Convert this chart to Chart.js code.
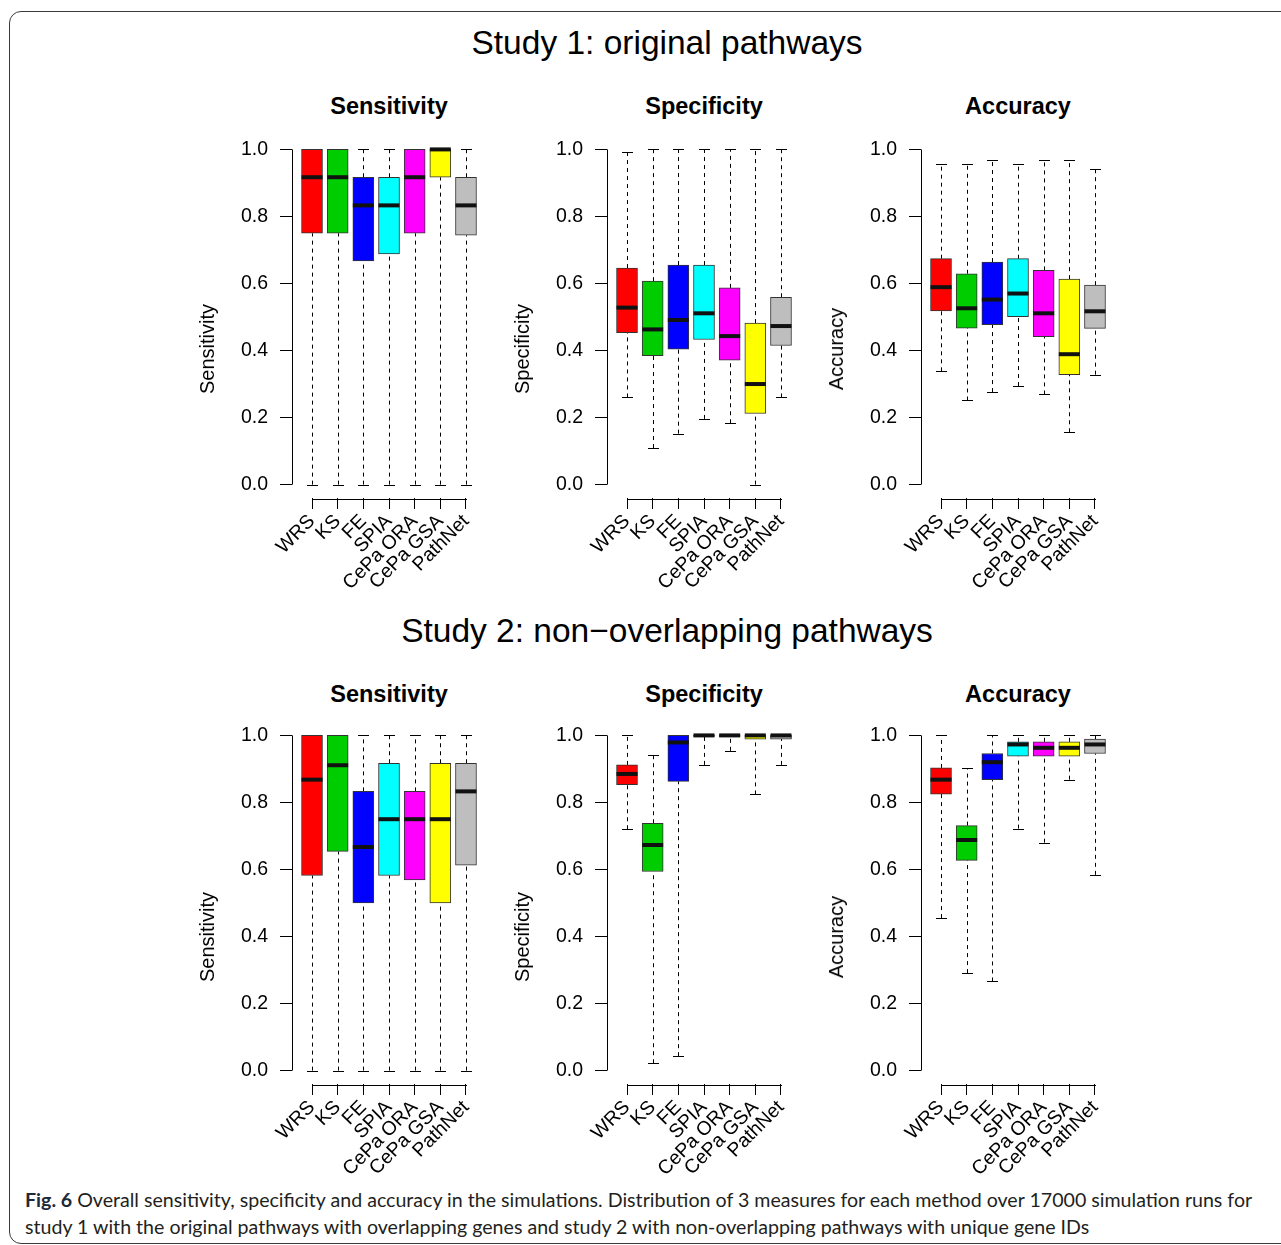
<!DOCTYPE html>
<html>
<head>
<meta charset="utf-8">
<script src="https://cdn.jsdelivr.net/npm/chart.js@4.4.1/dist/chart.umd.min.js"></script>
<style>
  body { margin: 0; width: 1281px; height: 1245px; overflow: hidden; background: #fff; position: relative; font-family: "Liberation Sans", Arial, sans-serif; }
  .frame { position: absolute; left: 9px; top: 11px; width: 1300px; height: 1231px; border: 1.5px solid #3a3a3a; border-radius: 12px; }
  .txt { position: absolute; white-space: nowrap; color: #000; transform: translate(-50%, -50%); line-height: 1; }
  .study { font-size: 33.5px; }
  .ptitle { font-size: 23.5px; font-weight: bold; }
  .ytitle { font-size: 20px; transform: translate(-50%, -50%) rotate(-90deg); }
  .panel { position: absolute; }
  .caption { position: absolute; left: 25px; top: 1186px; font-family: Lato, "Open Sans", sans-serif; font-size: 19.6px; line-height: 27px; color: #231f20; white-space: nowrap; }
  .caption b { color: #1c2a3a; }
</style>
</head>
<body>
<div class="frame"></div>

<div class="txt study" style="left:667px; top:43px;">Study 1: original pathways</div>
<div class="txt study" style="left:667px; top:631px;">Study 2: non−overlapping pathways</div>

<div class="caption"><b>Fig. 6</b> Overall sensitivity, specificity and accuracy in the simulations. Distribution of 3 measures for each method over 17000 simulation runs for<br>study 1 with the original pathways with overlapping genes and study 2 with non-overlapping pathways with unique gene IDs</div>

<script>
// methods and box colours
const methods = ['WRS', 'KS', 'FE', 'SPIA', 'CePa ORA', 'CePa GSA', 'PathNet'];
const boxColors = ['#FF0000', '#00CD00', '#0000FF', '#00FFFF', '#FF00FF', '#FFFF00', '#BEBEBE'];
const yTicks = [0, 0.2, 0.4, 0.6, 0.8, 1.0];

// study 1 - sensitivity
const s1SensLow = [0, 0, 0, 0, 0, 0, 0];
const s1SensQ1  = [0.75, 0.75, 0.667, 0.688, 0.75, 0.917, 0.744];
const s1SensMed = [0.917, 0.917, 0.833, 0.833, 0.917, 1.0, 0.833];
const s1SensQ3  = [1, 1, 0.917, 0.917, 1, 1, 0.917];
const s1SensHigh = [1, 1, 1, 1, 1, 1, 1];

// study 1 - specificity
const s1SpecLow = [0.26, 0.109, 0.152, 0.196, 0.183, 0, 0.26];
const s1SpecQ1  = [0.453, 0.385, 0.404, 0.433, 0.371, 0.212, 0.415];
const s1SpecMed = [0.528, 0.463, 0.491, 0.511, 0.443, 0.3, 0.473];
const s1SpecQ3  = [0.646, 0.607, 0.655, 0.655, 0.587, 0.482, 0.559];
const s1SpecHigh = [0.992, 1, 1, 1, 1, 1, 1];

// study 1 - accuracy
const s1AccLow = [0.338, 0.251, 0.276, 0.294, 0.269, 0.156, 0.328];
const s1AccQ1  = [0.518, 0.467, 0.477, 0.501, 0.441, 0.328, 0.466];
const s1AccMed = [0.589, 0.526, 0.552, 0.570, 0.511, 0.389, 0.517];
const s1AccQ3  = [0.674, 0.629, 0.664, 0.674, 0.639, 0.613, 0.595];
const s1AccHigh = [0.957, 0.957, 0.967, 0.957, 0.967, 0.967, 0.941];

// study 2 - sensitivity
const s2SensLow = [0, 0, 0, 0, 0, 0, 0];
const s2SensQ1  = [0.582, 0.654, 0.5, 0.582, 0.569, 0.5, 0.613];
const s2SensMed = [0.868, 0.911, 0.667, 0.75, 0.75, 0.75, 0.833];
const s2SensQ3  = [1, 1, 0.833, 0.917, 0.833, 0.917, 0.917];
const s2SensHigh = [1, 1, 1, 1, 1, 1, 1];

// study 2 - specificity
const s2SpecLow = [0.72, 0.022, 0.043, 0.912, 0.954, 0.824, 0.912];
const s2SpecQ1  = [0.853, 0.594, 0.863, 0.997, 0.997, 0.989, 0.989];
const s2SpecMed = [0.885, 0.673, 0.979, 1, 1, 1, 1];
const s2SpecQ3  = [0.912, 0.738, 1, 1, 1, 1, 1];
const s2SpecHigh = [1, 0.941, 1, 1, 1, 1, 1];

// study 2 - accuracy
const s2AccLow = [0.455, 0.291, 0.266, 0.722, 0.680, 0.868, 0.584];
const s2AccQ1  = [0.825, 0.627, 0.868, 0.938, 0.938, 0.938, 0.946];
const s2AccMed = [0.868, 0.688, 0.920, 0.973, 0.963, 0.963, 0.973];
const s2AccQ3  = [0.903, 0.731, 0.946, 0.981, 0.981, 0.981, 0.989];
const s2AccHigh = [1, 0.903, 1, 1, 1, 1, 1];

const panels = [
  { title: 'Sensitivity', left: 292, top: 136, lo: s1SensLow, q1: s1SensQ1, med: s1SensMed, q3: s1SensQ3, hi: s1SensHigh },
  { title: 'Specificity', left: 607, top: 136, lo: s1SpecLow, q1: s1SpecQ1, med: s1SpecMed, q3: s1SpecQ3, hi: s1SpecHigh },
  { title: 'Accuracy', left: 921, top: 136, lo: s1AccLow, q1: s1AccQ1, med: s1AccMed, q3: s1AccQ3, hi: s1AccHigh },
  { title: 'Sensitivity', left: 292, top: 722, lo: s2SensLow, q1: s2SensQ1, med: s2SensMed, q3: s2SensQ3, hi: s2SensHigh },
  { title: 'Specificity', left: 607, top: 722, lo: s2SpecLow, q1: s2SpecQ1, med: s2SpecMed, q3: s2SpecQ3, hi: s2SpecHigh },
  { title: 'Accuracy', left: 921, top: 722, lo: s2AccLow, q1: s2AccQ1, med: s2AccMed, q3: s2AccQ3, hi: s2AccHigh }
];

const Y_AXIS_W = 80, X_AXIS_H = 110, AREA_W = 194, AREA_H = 362;

Chart.defaults.color = '#000';
Chart.defaults.font.family = '"Liberation Sans", Arial, sans-serif';
Chart.defaults.font.size = 19.5;

// whiskers, caps, medians and R-style axis lines
const rBox = {
  id: 'rbox',
  beforeDatasetsDraw(chart) {
    const p = chart.options.plugins.rbox;
    const { ctx, chartArea } = chart;
    const x = chart.scales.x, y = chart.scales.y;
    const line = (x1, y1, x2, y2) => { ctx.beginPath(); ctx.moveTo(x1, y1); ctx.lineTo(x2, y2); ctx.stroke(); };
    ctx.save();
    ctx.strokeStyle = '#000';
    ctx.lineWidth = 1;
    p.q1.forEach((v, i) => {
      const px = Math.round(x.getPixelForValue(i + 1)) + 0.5;
      ctx.setLineDash([4, 4]);
      line(px, y.getPixelForValue(p.lo[i]), px, y.getPixelForValue(p.q1[i]));
      line(px, y.getPixelForValue(p.q3[i]), px, y.getPixelForValue(p.hi[i]));
      ctx.setLineDash([]);
      const lo = Math.round(y.getPixelForValue(p.lo[i])) + 0.5;
      const hi = Math.round(y.getPixelForValue(p.hi[i])) + 0.5;
      line(px - 5.5, lo, px + 5.5, lo);
      line(px - 5.5, hi, px + 5.5, hi);
    });
    // axis lines spanning only the ticks
    const ax = Math.round(chartArea.left) + 0.5;
    line(ax, y.getPixelForValue(0), ax, y.getPixelForValue(1));
    const ay = Math.round(chartArea.bottom) + 1.5;
    line(Math.round(x.getPixelForValue(1)), ay, Math.round(x.getPixelForValue(7)) + 1, ay);
    ctx.restore();
  },
  afterDatasetsDraw(chart) {
    const p = chart.options.plugins.rbox;
    const { ctx } = chart;
    const x = chart.scales.x, y = chart.scales.y;
    ctx.save();
    ctx.strokeStyle = '#111';
    ctx.lineWidth = 4;
    p.med.forEach((m, i) => {
      const px = x.getPixelForValue(i + 1);
      const py = y.getPixelForValue(m);
      ctx.beginPath();
      ctx.moveTo(px - 10.5, py);
      ctx.lineTo(px + 10.5, py);
      ctx.stroke();
    });
    ctx.restore();
  }
};

panels.forEach((p, k) => {
  const wrap = document.createElement('div');
  wrap.className = 'panel';
  wrap.style.left = (p.left - Y_AXIS_W) + 'px';
  wrap.style.top = p.top + 'px';
  const cv = document.createElement('canvas');
  cv.width = Y_AXIS_W + AREA_W + 4;
  cv.height = AREA_H + X_AXIS_H;
  wrap.appendChild(cv);
  document.body.appendChild(wrap);

  const cx = p.left + AREA_W / 2;
  const study2 = p.top > 500;
  const t = document.createElement('div');
  t.className = 'txt ptitle';
  t.style.left = cx + 'px';
  t.style.top = (study2 ? 695 : 107) + 'px';
  t.textContent = p.title;
  document.body.appendChild(t);

  const yt = document.createElement('div');
  yt.className = 'txt ytitle';
  yt.style.left = (p.left - 85) + 'px';
  yt.style.top = (study2 ? 937 : 349) + 'px';
  yt.textContent = p.title;
  document.body.appendChild(yt);

  new Chart(cv, {
    type: 'bar',
    data: {
      datasets: [{
        data: p.q1.map((v, i) => ({ x: i + 1, y: [v, p.q3[i]] })),
        backgroundColor: boxColors,
        borderColor: '#333',
        borderWidth: 1,
        borderSkipped: false,
        barThickness: 21
      }]
    },
    options: {
      responsive: false,
      animation: false,
      events: [],
      layout: { padding: { right: 4 } },
      plugins: {
        legend: { display: false },
        tooltip: { enabled: false },
        rbox: { lo: p.lo, q1: p.q1, med: p.med, q3: p.q3, hi: p.hi }
      },
      scales: {
        x: {
          type: 'linear',
          offset: false,
          min: 0.22,
          max: 7.78,
          afterBuildTicks: s => { s.ticks = methods.map((m, i) => ({ value: i + 1 })); },
          afterFit: s => { s.height = X_AXIS_H; s.paddingLeft = 0; s.paddingRight = 0; },
          ticks: {
            autoSkip: false,
            minRotation: 45,
            maxRotation: 45,
            padding: 1,
            callback: v => methods[v - 1]
          },
          grid: { offset: false, drawOnChartArea: false, tickLength: 11, color: '#000' },
          border: { display: false }
        },
        y: {
          min: -0.04,
          max: 1.04,
          afterBuildTicks: s => { s.ticks = yTicks.map(v => ({ value: v })); },
          afterFit: s => { s.width = Y_AXIS_W; s.paddingTop = 0; s.paddingBottom = 0; },
          ticks: { padding: 12, callback: v => v.toFixed(1) },
          grid: { drawOnChartArea: false, tickLength: 12, color: '#000' },
          border: { display: false }
        }
      }
    },
    plugins: [rBox]
  });
});
</script>
</body>
</html>
